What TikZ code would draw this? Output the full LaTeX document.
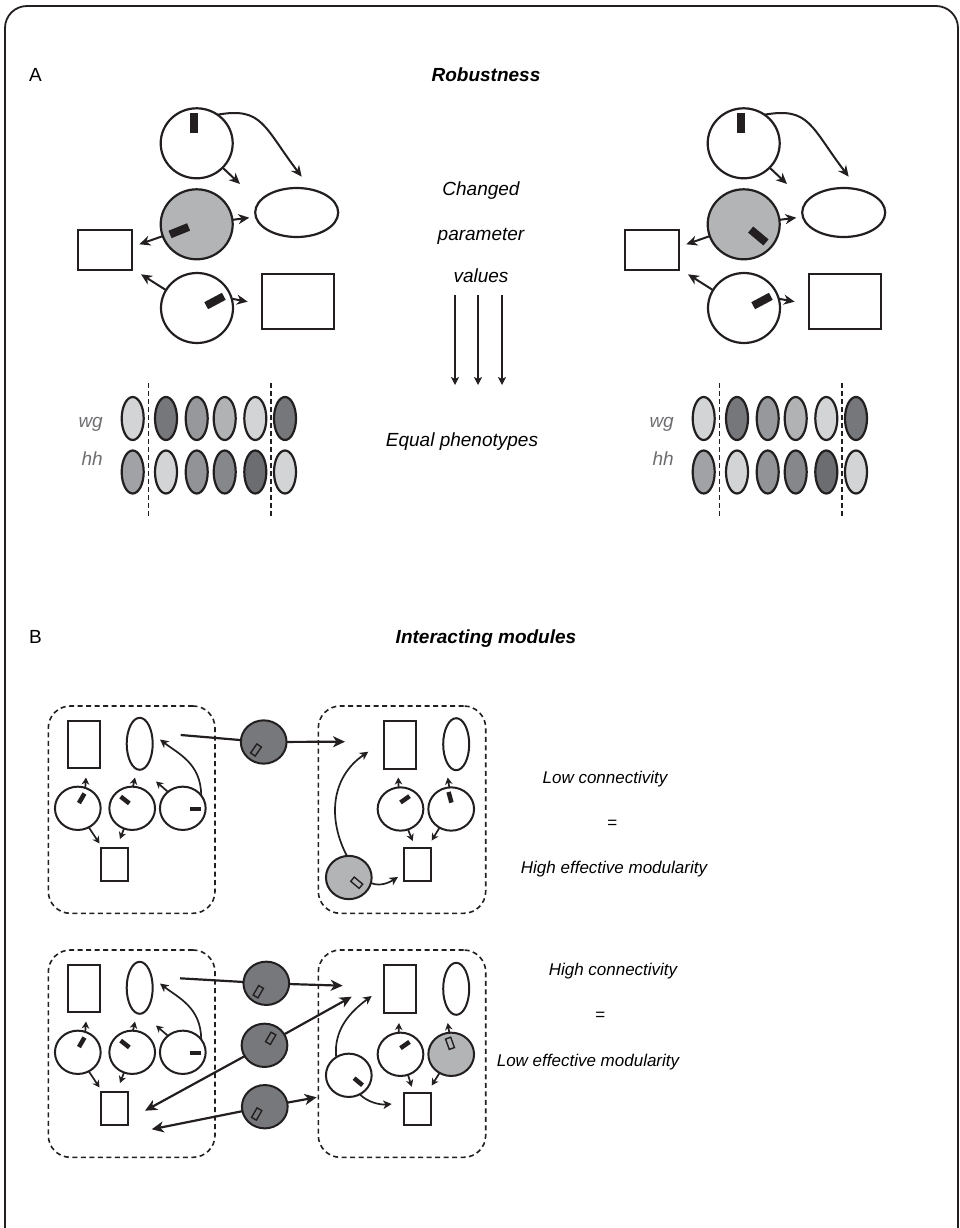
\documentclass[tikz,border=0pt]{standalone}
\usepackage{fontspec}
\setmainfont{Liberation Sans}
\usetikzlibrary{arrows.meta,shapes.geometric}
\definecolor{ink}{HTML}{231F20}
\definecolor{gA}{HTML}{B3B4B6}
\definecolor{gD}{HTML}{77787B}
\definecolor{pL}{HTML}{D3D4D6}
\definecolor{pD}{HTML}{76777A}
\definecolor{pM}{HTML}{97989B}
\definecolor{pML}{HTML}{B1B2B4}
\definecolor{pMa}{HTML}{A1A2A5}
\definecolor{pMb}{HTML}{929396}
\definecolor{pMD}{HTML}{86878A}
\definecolor{pDD}{HTML}{6C6D70}
\definecolor{lbl}{HTML}{6D6E71}
\tikzset{
  shp/.style={draw=ink, line width=2.2pt, inner sep=0pt, outer sep=0pt},
  shq/.style={draw=ink, line width=2pt, inner sep=0pt, outer sep=0pt},
  cA/.style={shp, ellipse, minimum width=72pt, minimum height=70pt, fill=white},
  eA/.style={shp, ellipse, minimum width=83pt, minimum height=49pt, fill=white},
  rA/.style={shp, rectangle, fill=white},
  barA/.style={rectangle, fill=ink, inner sep=0pt, minimum width=20pt, minimum height=8pt},
  barB/.style={rectangle, fill=ink, inner sep=0pt, minimum width=11pt, minimum height=4.5pt},
  hol/.style={rectangle, draw=ink, line width=1.4pt, inner sep=0pt, minimum width=11pt, minimum height=5.5pt},
  cB/.style={shq, ellipse, minimum width=45.7pt, minimum height=43.3pt, fill=white},
  eB/.style={shq, ellipse, minimum width=26pt, minimum height=52pt, fill=white},
  rB/.style={shq, rectangle, fill=white},
  ph/.style={shp, ellipse, minimum width=22pt, minimum height=43pt},
  mbox/.style={draw=ink, line width=1.6pt, rectangle, rounded corners=22pt, dash pattern=on 5pt off 3.5pt, inner sep=0pt},
  vdash/.style={draw=ink, line width=1.6pt, dash pattern=on 5pt off 3pt},
  arr/.style={draw=ink, line width=2pt, -{Stealth[length=11pt,width=10pt,inset=3.5pt]}},
  barr/.style={draw=ink, line width=2.2pt, -{Stealth[length=12pt,width=11pt,inset=3.5pt]}},
  plain/.style={draw=ink, line width=2.2pt},
  sarr/.style={draw=ink, line width=1.7pt, -{Stealth[length=7pt,width=7.5pt,inset=2.2pt]}},
  marr/.style={draw=ink, line width=1.7pt, -{Stealth[length=8.5pt,width=8.5pt,inset=2.5pt]}},
  varr/.style={draw=ink, line width=1.2pt, -{Stealth[length=8pt,width=8pt,inset=2pt]}},
  txt/.style={inner sep=0pt, anchor=base},
  btxt/.style={inner sep=0pt, anchor=base, font=\fontsize{17}{20}\selectfont\itshape},
}
\newcommand{\robnet}[4]{%
\begin{scope}[xshift=#2]
  \node[cA] (#1t) at (196.7,143.3) {};
  \node[cA, fill=gA] (#1g) at (196.7,224.3) {};
  \node[cA] (#1b) at (197,308) {};
  \node[eA] (#1e) at (296.7,212.5) {};
  \node[rA, minimum width=54pt, minimum height=40pt] (#1r) at (105,250) {};
  \node[rA, minimum width=72pt, minimum height=55pt] (#1s) at (298,301.5) {};
  \node[barA, rotate=90] (#1m1) at (194,123.5) {};
  \node[barA, rotate=#4] (#1m2) at (#3) {};
  \node[barA, rotate=28] (#1m3) at (215,301) {};
  \coordinate (#1a1) at (240,184);
  \coordinate (#1a2) at (301.7,176.7);
  \coordinate (#1a3) at (249.3,217.7);
  \coordinate (#1a4) at (139.3,244.3);
  \coordinate (#1a5) at (141,274.3);
  \coordinate (#1a6) at (247.7,301.7);
  \draw[arr] (#1t) -- (#1a1);
  \draw[arr] (#1t.54) .. controls +(45,-8) and +(-38,-50) .. (#1a2);
  \draw[arr] (#1g) -- (#1a3);
  \draw[arr] (#1g) -- (#1a4);
  \draw[arr] (#1b.150) -- (#1a5);
  \draw[arr] (#1b.15) -- (#1a6);
\end{scope}}
\newcommand{\pheno}[2]{%
\begin{scope}[xshift=#2]
  \foreach \x/\c [count=\i] in {132.7/pL,166/pD,196.7/pM,224.7/pML,255.3/pL,285/pD}
    {\node[ph, fill=\c] (#1w\i) at (\x,418.5) {};}
  \foreach \x/\c [count=\i] in {132.7/pMa,166/pL,196.7/pMb,224.7/pMD,255.3/pDD,285/pL}
    {\node[ph, fill=\c] (#1h\i) at (\x,472) {};}
  \coordinate (#1d1t) at (148.3,383);
  \coordinate (#1d1b) at (148.3,516);
  \coordinate (#1d2t) at (270.7,383);
  \coordinate (#1d2b) at (270.7,516);
  \draw[vdash] (#1d1t) -- (#1d1b);
  \draw[vdash] (#1d2t) -- (#1d2b);
  \node[inner sep=0pt, anchor=base east, text=lbl] (#1lw) at (103,427) {wg};
  \node[inner sep=0pt, anchor=base east, text=lbl] (#1lh) at (103,465) {hh};
\end{scope}}
\newcommand{\lmod}[2]{%
\begin{scope}[yshift=#2]
  \node[mbox, minimum width=166.7pt, minimum height=207.3pt] (#1box) at (131.65,809.65) {};
  \node[rB, minimum width=32.3pt, minimum height=47.6pt] (#1R) at (83.8,744.5) {};
  \node[eB] (#1E) at (139.7,743.8) {};
  \node[cB] (#1c1) at (77.8,808.3) {};
  \node[cB] (#1c2) at (132.2,808.3) {};
  \node[cB] (#1c3) at (182.8,808.3) {};
  \node[rB, minimum width=27pt, minimum height=32.4pt] (#1S) at (114.2,864.5) {};
  \node[barB, rotate=60] (#1m1) at (81.7,798.3) {};
  \node[barB, rotate=-38] (#1m2) at (125,800) {};
  \node[barB] (#1m3) at (195.5,809) {};
  \coordinate (#1a1) at (86,777.5);
  \coordinate (#1a2) at (135,777.5);
  \coordinate (#1a3) at (156,781.5);
  \coordinate (#1a4) at (160,739.5);
  \coordinate (#1a5) at (99.5,843.5);
  \coordinate (#1a6) at (120,839);
  \draw[sarr] (#1c1.70) -- (#1a1);
  \draw[sarr] (#1c2.88) -- (#1a2);
  \draw[sarr] (#1c3.132) -- (#1a3);
  \draw[marr] (#1c3.35) .. controls +(0,-32) and +(18,14) .. (#1a4);
  \draw[sarr] (#1c1.-60) -- (#1a5);
  \draw[sarr] (#1c2.-112) -- (#1a6);
\end{scope}}
\begin{document}
\begin{tikzpicture}[x=1pt, y=-1pt, font=\fontsize{19}{22}\selectfont\itshape]
\useasboundingbox (0,0) rectangle (959,1228);
\clip (0,0) rectangle (959,1228);
% frame
\draw[ink, line width=1.8pt, rounded corners=22pt] (5,1300) -- (5,6) -- (958,6) -- (958,1300);

% ---------- A ----------
\node[txt, anchor=base west, font=\fontsize{19}{22}\selectfont\upshape] (labA) at (29,82) {A};
\node[txt, font=\fontsize{19}{22}\selectfont\bfseries\itshape] (titA) at (486,82) {Robustness};

\robnet{L}{0pt}{179.3,230.7}{22}
\robnet{R}{547pt}{211.3,236}{-40}

\node[txt] (ch1) at (481,195) {Changed};
\node[txt] (ch2) at (481,240) {parameter};
\node[txt] (ch3) at (481,282) {values};
\coordinate (v1t) at (455,295); \coordinate (v1b) at (455,385);
\coordinate (v2t) at (478,295); \coordinate (v2b) at (478,385);
\coordinate (v3t) at (502,295); \coordinate (v3b) at (502,385);
\draw[varr] (v1t) -- (v1b);
\draw[varr] (v2t) -- (v2b);
\draw[varr] (v3t) -- (v3b);

\pheno{PL}{0pt}
\pheno{PR}{571pt}
\node[txt] (eq) at (462,446) {Equal phenotypes};

% ---------- B ----------
\node[txt, anchor=base west, font=\fontsize{19}{22}\selectfont\upshape] (labB) at (29,643) {B};
\node[txt, font=\fontsize{19}{22}\selectfont\bfseries\itshape] (titB) at (486,643) {Interacting modules};

% top pair
\lmod{TL}{0pt}
\node[mbox, minimum width=167.4pt, minimum height=207.3pt] (TRbox) at (402,809.65) {};
\node[rB, minimum width=31.7pt, minimum height=48.3pt] (TRR) at (400.2,744.8) {};
\node[eB] (TRE) at (456.2,744.2) {};
\node[cB] (TRcA) at (400.5,809) {};
\node[cB] (TRcB) at (451.2,809) {};
\node[rB, minimum width=27pt, minimum height=32.4pt] (TRS) at (417,864.5) {};
\node[cB, fill=gA] (TRG) at (348.8,877.5) {};
\node[barB, rotate=35] (TRm1) at (405,799.3) {};
\node[barB, rotate=105] (TRm2) at (450,797.3) {};
\node[hol, fill=gA, rotate=-40] (TRm3) at (356.7,882.7) {};
\coordinate (TRa1) at (398.3,777.5);
\coordinate (TRa2) at (447.7,777.5);
\coordinate (TRa3) at (412.7,841);
\coordinate (TRa4) at (431.7,840.5);
\coordinate (TRa5) at (368.3,751.7);
\coordinate (TRa6) at (398,877);
\draw[sarr] (TRcA.95) -- (TRa1);
\draw[sarr] (TRcB.95) -- (TRa2);
\draw[sarr] (TRcA.-70) -- (TRa3);
\draw[sarr] (TRcB.-122) -- (TRa4);
\draw[marr] (TRG.95) .. controls +(-18.8,-35.9) and +(-38.3,26.3) .. (TRa5);
\draw[marr] (TRG.-14) .. controls +(10,4) and +(-8,5) .. (TRa6);

\node[cB, fill=gD] (D1) at (263.7,742) {};
\node[hol, fill=gD, rotate=55] (D1m) at (256,750) {};
\coordinate (D1s) at (180.7,735);
\coordinate (D1e) at (345,741.7);
\draw[plain] (D1s) -- (D1);
\draw[barr] (D1) -- (D1e);

% bottom pair
\lmod{BL}{-244pt}
\node[mbox, minimum width=167.4pt, minimum height=207.3pt] (BRbox) at (402,1053.65) {};
\node[rB, minimum width=31.7pt, minimum height=48.3pt] (BRR) at (400.2,989) {};
\node[eB] (BRE) at (456.2,988.8) {};
\node[cB] (BRcA) at (400.5,1054.3) {};
\node[cB, fill=gA] (BRcB) at (451.2,1054.3) {};
\node[cB] (BRcC) at (348.8,1075.3) {};
\node[rB, minimum width=27pt, minimum height=32.4pt] (BRS) at (417,1109) {};
\node[barB, rotate=35] (BRm1) at (405,1045) {};
\node[hol, fill=gA, rotate=110] (BRm2) at (450,1043.3) {};
\node[barB, rotate=-40] (BRm3) at (358.3,1081.7) {};
\coordinate (BRa1) at (399,1023);
\coordinate (BRa2) at (447.7,1023);
\coordinate (BRa3) at (411.7,1086.7);
\coordinate (BRa4) at (431.7,1085.5);
\coordinate (BRa5) at (371.7,996);
\coordinate (BRa6) at (391.7,1104);
\draw[sarr] (BRcA.95) -- (BRa1);
\draw[sarr] (BRcB.95) -- (BRa2);
\draw[sarr] (BRcA.-70) -- (BRa3);
\draw[sarr] (BRcB.-122) -- (BRa4);
\draw[marr] (BRcC.125) .. controls +(-2.7,-27.6) and +(-21.7,16) .. (BRa5);
\draw[marr] (BRcC.-60) .. controls +(8,8) and +(-12,1) .. (BRa6);

\node[cB, fill=gD] (D2) at (266.3,983.3) {};
\node[hol, fill=gD, rotate=60] (D2m) at (258.3,991.7) {};
\node[cB, fill=gD] (D3) at (264.5,1045.3) {};
\node[hol, fill=gD, rotate=60] (D3m) at (270.7,1038.3) {};
\node[cB, fill=gD] (D4) at (264.8,1106.7) {};
\node[hol, fill=gD, rotate=60] (D4m) at (256.7,1114) {};
\coordinate (D2s) at (180,978.3);
\coordinate (D2e) at (342.7,985.7);
\coordinate (D3l) at (145,1110.7);
\coordinate (D3r) at (351.7,996.7);
\coordinate (D4r) at (316.7,1097.3);
\coordinate (D4l) at (151.7,1129.3);
\draw[plain] (D2s) -- (D2);
\draw[barr] (D2) -- (D2e);
\draw[barr] (D3) -- (D3l);
\draw[barr] (D3) -- (D3r);
\draw[barr] (D4) -- (D4r);
\draw[barr] (D4) -- (D4l);

% texts on the right
\node[btxt] (t1) at (605,783) {Low connectivity};
\node[btxt] (t2) at (612,828) {=};
\node[btxt] (t3) at (614,873) {High effective modularity};
\node[btxt] (t4) at (613,975) {High connectivity};
\node[btxt] (t5) at (600,1020) {=};
\node[btxt] (t6) at (588,1066) {Low effective modularity};
\end{tikzpicture}
\end{document}
